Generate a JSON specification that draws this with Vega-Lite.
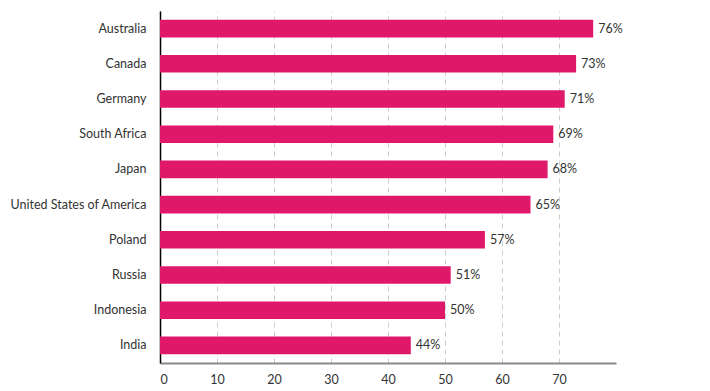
{
  "$schema": "https://vega.github.io/schema/vega-lite/v6.json",
  "width": 456,
  "height": 352,
  "autosize": {"type": "none"},
  "padding": {"left": 160, "top": 11, "right": 94, "bottom": 28},
  "background": "white",
  "config": {"view": {"stroke": null}, "font": "Lato"},
  "data": {"values": [
    {"country": "Australia", "value": 76, "label": "76%"},
    {"country": "Canada", "value": 73, "label": "73%"},
    {"country": "Germany", "value": 71, "label": "71%"},
    {"country": "South Africa", "value": 69, "label": "69%"},
    {"country": "Japan", "value": 68, "label": "68%"},
    {"country": "United States of America", "value": 65, "label": "65%"},
    {"country": "Poland", "value": 57, "label": "57%"},
    {"country": "Russia", "value": 51, "label": "51%"},
    {"country": "Indonesia", "value": 50, "label": "50%"},
    {"country": "India", "value": 44, "label": "44%"}
  ]},
  "encoding": {
    "y": {"field": "country", "type": "nominal", "sort": null, "title": null,
      "scale": {"paddingInner": 0.5, "paddingOuter": 0.25},
      "axis": {"domainColor": "#000", "domainWidth": 1.5, "ticks": false, "labelFontSize": 12.5, "labelColor": "#333", "labelPadding": 14, "labelFont": "Lato"}},
    "x": {"field": "value", "type": "quantitative", "title": null,
      "scale": {"domain": [0, 80], "nice": false},
      "axis": {"values": [0, 10, 20, 30, 40, 50, 60, 70], "domainColor": "#888", "domainWidth": 2, "ticks": false, "labelFontSize": 12.5, "labelColor": "#333", "labelPadding": 10, "labelFont": "Lato", "grid": true, "gridDash": [5, 4], "gridColor": "#ccc", "gridWidth": 1}}
  },
  "layer": [
    {"mark": {"type": "bar", "color": "#E0186A"}},
    {"mark": {"type": "text", "align": "left", "dx": 5, "fontSize": 12.5, "color": "#333", "font": "Lato"},
      "encoding": {"text": {"field": "label", "type": "nominal"}}}
  ]
}
